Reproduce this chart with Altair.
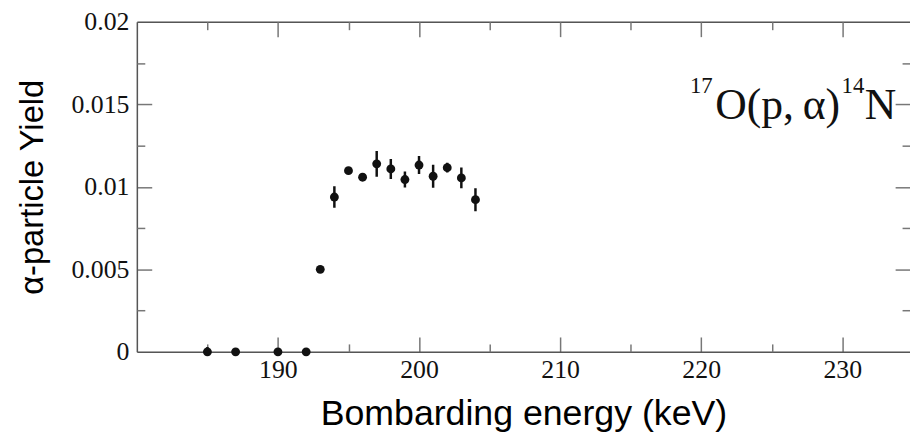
import altair as alt
import pandas as pd

# ---- data ----
energy = [185, 187, 190, 192, 193, 194, 195, 196, 197, 198, 199, 200, 201, 202, 203, 204]
yield_vals = [0, 0, 0, 0, 0.0050, 0.00938, 0.01098, 0.01058, 0.01139, 0.01108,
              0.01044, 0.01132, 0.01064, 0.01116, 0.01054, 0.00922]
yield_err = [0.0003, 0, 0, 0, 0.0001, 0.00065, 0.00015, 0.00015, 0.00078, 0.0006,
             0.00048, 0.00054, 0.0007, 0.0003, 0.00063, 0.0007]

x_major = [190, 200, 210, 220, 230]
x_minor = [185, 195, 205, 215, 225]
y_major = [0, 0.005, 0.01, 0.015, 0.02]
y_major_inner = [0.005, 0.01, 0.015]
y_minor = [0.0025, 0.0075, 0.0125, 0.0175]

ann_text = ["17", "O(p,\u2009α)", "14", "N"]
ann_x = [219.2, 221.0, 229.95, 231.6]
ann_y = [0.01568, 0.01411, 0.01568, 0.01411]
ann_size = [23, 44, 23, 44]

df = pd.DataFrame({
    "energy": energy,
    "yield": yield_vals,
    "lo": [v - e for v, e in zip(yield_vals, yield_err)],
    "hi": [v + e for v, e in zip(yield_vals, yield_err)],
})
ann = pd.DataFrame({"t": ann_text, "ax": ann_x, "ay": ann_y, "fs": ann_size})

xs = alt.Scale(domain=[180, 234.8], nice=False, zero=False)
ys = alt.Scale(domain=[0, 0.02], nice=False, zero=False)

FRAME = "#555555"
TICK = "#777777"
INK = "#111111"


def tick_axis(orient, values, size):
    return alt.Axis(orient=orient, values=values, tickSize=size, offset=-size,
                    labels=False, domain=False, title=None, ticks=True,
                    tickColor=TICK, tickWidth=1.5, grid=False)


def domain_axis(orient):
    return alt.Axis(orient=orient, labels=False, ticks=False, tickSize=0, domain=True,
                    domainColor=FRAME, domainWidth=1.5, title=None, grid=False)


x_label_axis = alt.Axis(
    orient="bottom", values=x_major, title="Bombarding energy (keV)",
    ticks=False, tickSize=0, domain=True, domainColor=FRAME, domainWidth=1.5,
    labelFont="Liberation Serif", labelFontSize=26, labelColor=INK, labelPadding=5,
    labelFlush=False, labelOverlap=False,
    titleFont="Liberation Sans", titleFontSize=36, titleFontWeight="normal",
    titleColor="#000000", titleBaseline="alphabetic", titleY=73, grid=False)

y_label_axis = alt.Axis(
    orient="left", values=y_major, format="~g", title="α-particle Yield",
    ticks=False, tickSize=0, domain=True, domainColor=FRAME, domainWidth=1.5,
    labelFont="Liberation Serif", labelFontSize=26, labelColor=INK, labelPadding=8,
    labelFlush=False, labelOverlap=False,
    titleFont="Liberation Sans", titleFontSize=33, titleFontWeight="normal",
    titleColor="#000000", titleBaseline="alphabetic", titleX=-95, grid=False)

base = alt.Chart(df)

points = base.mark_circle(size=80, color=INK, opacity=1).encode(
    x=alt.X("energy:Q", scale=xs, axis=x_label_axis),
    y=alt.Y("yield:Q", scale=ys, axis=y_label_axis),
)

errbars = base.mark_rule(color=INK, strokeWidth=2.5, clip=True).encode(
    x=alt.X("energy:Q", scale=xs, axis=tick_axis("bottom", x_major, 15)),
    y=alt.Y("lo:Q", scale=ys, axis=tick_axis("left", y_major_inner, 15)),
    y2="hi:Q",
)

label = alt.Chart(ann).mark_text(align="left", baseline="alphabetic",
                                 font="Liberation Serif", color=INK).encode(
    x=alt.X("ax:Q", scale=xs, axis=tick_axis("bottom", x_minor, 8)),
    y=alt.Y("ay:Q", scale=ys, axis=tick_axis("left", y_minor, 8)),
    text="t:N",
    size=alt.Size("fs:Q", scale=None, legend=None),
)

inv1 = base.mark_circle(opacity=0).encode(
    x=alt.X("energy:Q", scale=xs, axis=domain_axis("top")),
    y=alt.Y("yield:Q", scale=ys, axis=tick_axis("right", y_major_inner, 15)),
)
inv2 = base.mark_circle(opacity=0).encode(
    x=alt.X("energy:Q", scale=xs, axis=tick_axis("top", x_major, 15)),
    y=alt.Y("yield:Q", scale=ys, axis=tick_axis("right", y_minor, 8)),
)
inv3 = base.mark_circle(opacity=0).encode(
    x=alt.X("energy:Q", scale=xs, axis=tick_axis("top", x_minor, 8)),
    y=alt.Y("yield:Q", scale=ys, axis=None),
)

chart = alt.layer(errbars, points, label, inv1, inv2, inv3).resolve_axis(
    x="independent", y="independent"
).properties(
    width=780, height=333,
    autosize=alt.AutoSizeParams(type="none"),
    padding={"left": 130, "top": 12, "right": 0, "bottom": 82},
).configure_view(stroke=None).configure(background="white")

chart.save("out.html", embed_options={"renderer": "svg", "actions": False})
